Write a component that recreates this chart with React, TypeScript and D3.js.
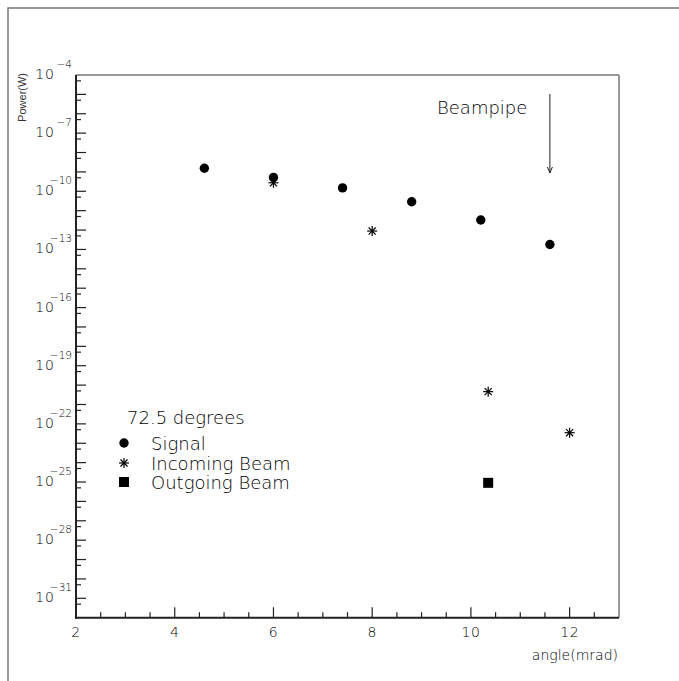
import React from 'react';
import * as d3 from 'd3';

// angle (mrad) and power (W)
const signalAngle = [4.6, 6.0, 7.4, 8.8, 10.2, 11.6];
const signalPower = [1.55e-9, 5.2e-10, 1.5e-10, 2.9e-11, 3.3e-12, 1.8e-13];
const incomingAngle = [6.0, 8.0, 10.35, 12.0];
const incomingPower = [2.75e-10, 8.9e-13, 4.6e-21, 3.5e-23];
const outgoingAngle = [10.35];
const outgoingPower = [9.1e-26];
const xTickLabels = [2, 4, 6, 8, 10, 12];
const yLabelExponents = [-4, -7, -10, -13, -16, -19, -22, -25, -28, -31];
const legendTitle = '72.5 degrees';
const legendNames = ['Signal', 'Incoming Beam', 'Outgoing Beam'];
const beampipeAngle = 11.6;

const font = "'DejaVu Sans', sans-serif";

const x = d3.scaleLinear().domain([2, 13]).range([76, 619]);
const y = d3.scaleLog().domain([1e-32, 1e-4]).range([617.7, 75]);

function Star({cx, cy, r}: {cx: number; cy: number; r: number}) {
  const d = r * Math.SQRT1_2;
  return (
    <g stroke="#000" strokeWidth={1.2}>
      <line x1={cx - r} y1={cy} x2={cx + r} y2={cy} />
      <line x1={cx} y1={cy - r} x2={cx} y2={cy + r} />
      <line x1={cx - d} y1={cy - d} x2={cx + d} y2={cy + d} />
      <line x1={cx - d} y1={cy + d} x2={cx + d} y2={cy - d} />
    </g>
  );
}

export default function App() {
  const [x0, x1] = x.range();
  const [yb, yt] = y.range();

  const xMinor = d3.range(2.5, 13, 0.5);
  const yDecades = d3.range(-31, -4);
  const yHalves = d3.range(-32, -4).map(e => 5 * Math.pow(10, e));

  const legendX = 124;
  const legendRows = [443, 463, 482];

  return (
    <svg width={679} height={681} style={{position: 'absolute', left: 0, top: 0}} fontFamily={font}>
      <rect x={8} y={8} width={800} height={800} fill="none" stroke="#777" strokeWidth={1.5} />

      {/* frame: top/right grey, axes black */}
      <line x1={x0} y1={yt} x2={x1} y2={yt} stroke="#777" strokeWidth={1.5} />
      <line x1={x1} y1={yt} x2={x1} y2={yb} stroke="#777" strokeWidth={1.5} />
      <line x1={x0} y1={yt} x2={x0} y2={yb + 1} stroke="#222" strokeWidth={2} />
      <line x1={x0 - 1} y1={yb} x2={x1} y2={yb} stroke="#222" strokeWidth={2} />

      {xMinor.map(v => {
        const major = v % 2 === 0;
        return <line key={'xt' + v} x1={x(v)} x2={x(v)} y1={yb} y2={yb - (major ? 10.5 : 5.5)} stroke="#222" strokeWidth={1.2} />;
      })}
      {xTickLabels.map(v => (
        <text key={'xl' + v} x={x(v)} y={637} textAnchor="middle" fontSize={14} fontWeight={200} fill="#000" letterSpacing={0.5}>{v}</text>
      ))}

      {yDecades.map(e => (
        <line key={'yd' + e} x1={x0} x2={x0 + 10} y1={y(Math.pow(10, e))} y2={y(Math.pow(10, e))} stroke="#222" strokeWidth={1.2} />
      ))}
      {yHalves.map((v, i) => (
        <line key={'yh' + i} x1={x0} x2={x0 + 5} y1={y(v)} y2={y(v)} stroke="#222" strokeWidth={1.2} />
      ))}
      {yLabelExponents.map(e => {
        const ty = y(Math.pow(10, e));
        return (
          <g key={'yl' + e} fill="#000" fontWeight={200}>
            <text x={55} y={ty + 4} textAnchor="end" fontSize={14} letterSpacing={1}>10</text>
            <text x={72} y={ty - 7} textAnchor="end" fontSize={10.5}>{'\u2212' + Math.abs(e)}</text>
          </g>
        );
      })}

      <text transform={`translate(26,${yt - 2}) rotate(-90)`} textAnchor="end" fontSize={11} fontFamily="'Liberation Sans', sans-serif" fill="#333">Power(W)</text>
      <text x={618} y={660} textAnchor="end" fontSize={14} fontWeight={200} fill="#000">angle(mrad)</text>

      {signalAngle.map((a, i) => (
        <circle key={'s' + i} cx={x(a)} cy={y(signalPower[i])} r={4.7} fill="#000" />
      ))}
      {incomingAngle.map((a, i) => (
        <Star key={'in' + i} cx={x(a)} cy={y(incomingPower[i])} r={5} />
      ))}
      {outgoingAngle.map((a, i) => (
        <rect key={'o' + i} x={x(a) - 5} y={y(outgoingPower[i]) - 5} width={10} height={10} fill="#000" />
      ))}

      {/* beampipe marker */}
      <text x={437} y={114} fontSize={18} fontWeight={200} fill="#000">Beampipe</text>
      <line x1={x(beampipeAngle)} x2={x(beampipeAngle)} y1={94} y2={173} stroke="#222" strokeWidth={1} />
      <polyline points={`${x(beampipeAngle) - 2.5},${167} ${x(beampipeAngle)},${173} ${x(beampipeAngle) + 2.5},${167}`} fill="none" stroke="#222" strokeWidth={1} />

      {/* legend */}
      <text x={127} y={424} fontSize={18} fontWeight={200} fill="#000">{legendTitle}</text>
      <circle cx={legendX} cy={legendRows[0]} r={4.7} fill="#000" />
      <Star cx={legendX} cy={legendRows[1]} r={5} />
      <rect x={legendX - 5} y={legendRows[2] - 5} width={10} height={10} fill="#000" />
      {legendNames.map((n, i) => (
        <text key={n} x={151} y={legendRows[i] + 6.5} fontSize={18} fontWeight={200} fill="#000">{n}</text>
      ))}
    </svg>
  );
}
